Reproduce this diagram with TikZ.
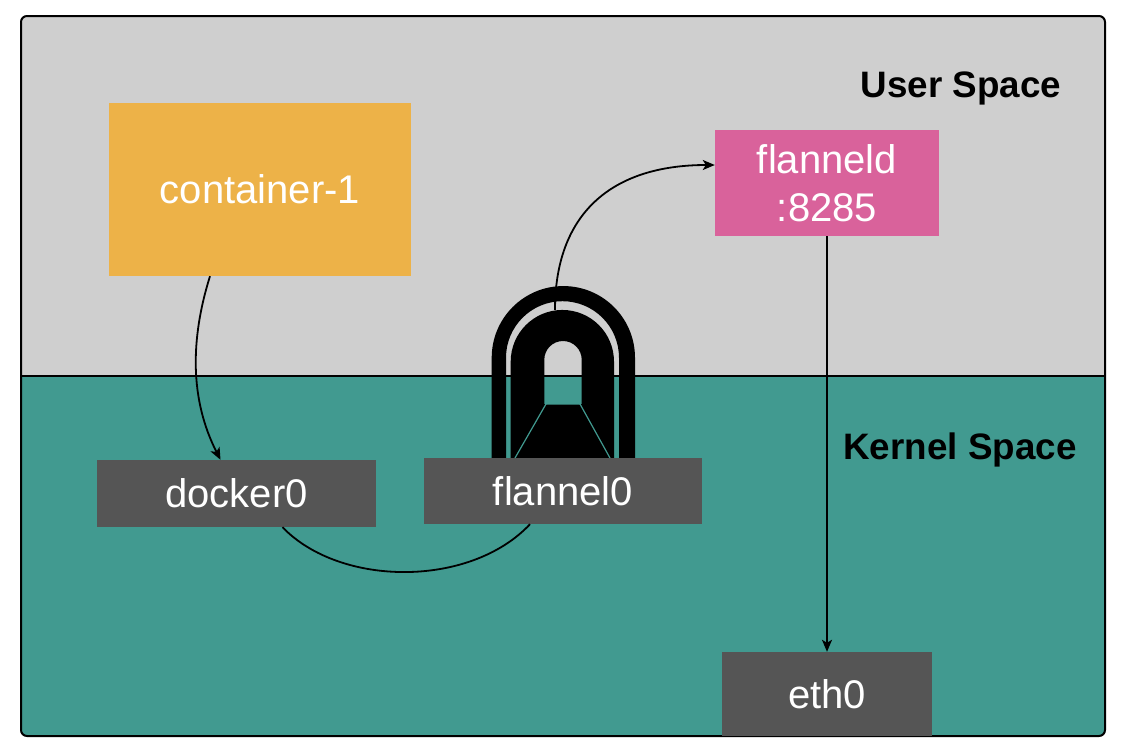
\documentclass[tikz,border=0pt]{standalone}
\usepackage{fontspec}
\setmainfont{Liberation Sans}
\usetikzlibrary{positioning,arrows.meta,calc}
\definecolor{userspace}{HTML}{CFCFCF}
\definecolor{kernelspace}{HTML}{419A90}
\definecolor{containerbox}{HTML}{EDB248}
\definecolor{daemonbox}{HTML}{D9629B}
\definecolor{devicebox}{HTML}{555555}
\tikzset{
  boxlabel/.style={inner sep=0pt, text=white, align=center, font=\fontsize{40}{48}\selectfont},
  device/.style={boxlabel, fill=devicebox},
  spacelabel/.style={inner sep=0pt, text=black, font=\fontsize{36.8}{42}\selectfont\bfseries},
  flow/.style={draw=black, line width=1.8pt, -{Stealth[length=12pt,width=10pt,inset=3pt]}},
  tunnel/.style={fill=black, even odd rule}
}

\begin{document}
\begin{tikzpicture}[x=1pt,y=-1pt]
    \useasboundingbox (0,0) rectangle (1122,750);

    % the two spaces
    \begin{scope}
        \clip[rounded corners=6pt] (21,16) rectangle (1105,736);
        \fill[userspace] (21,16) rectangle (1105,376);
        \fill[kernelspace] (21,376) rectangle (1105,736);
    \end{scope}
    \draw[line width=1.8pt] (21,376) -- (1105,376);
    \draw[line width=2pt, rounded corners=6pt] (21,16) rectangle (1105,736);

    % tunnel
    \fill[tunnel] (491.7,458) -- (491.7,357.7) arc[start angle=180,end angle=0,radius=71.65pt]
        -- (635,458) -- (619,458) -- (619,357.7) arc[start angle=0,end angle=180,radius=56.5pt]
        -- (506,458) -- cycle;
    \fill[tunnel] (510.7,458) -- (510.7,361.6) arc[start angle=180,end angle=0,radius=51.65pt]
        -- (614,458) -- cycle
        (544.3,404) -- (544.3,359.7) arc[start angle=180,end angle=0,radius=18.7pt]
        -- (581.7,404) -- cycle;
    \draw[kernelspace, line width=1.2pt] (515,458) -- (546,404) -- (580,404) -- (610,458);
    \coordinate (tunneltop) at (555,310);

    \node[boxlabel, fill=containerbox, minimum width=302pt, minimum height=173pt] (container) at (260,189.5) {container-1};
    \node[boxlabel, fill=daemonbox, minimum width=224pt, minimum height=106pt] (flanneld) at (827,183) {flanneld\\:8285};
    \node[device, minimum width=279pt, minimum height=67pt] (docker) at (236.5,493.5) {docker0};
    \node[device, minimum width=278pt, minimum height=66pt] (flannel) at (563,491) {flannel0};
    \node[device, minimum width=210pt, minimum height=84pt] (eth) at (827,694) {eth0};

    \node[spacelabel] (user) at (961,88) {User Space};
    \node[spacelabel] (kernel) at (960,449.5) {Kernel Space};

    \draw[flow] ([xshift=-50pt]container.south) .. controls (190,340) and (190,400) .. ([xshift=-16pt]docker.north);
    \draw[line width=1.8pt] ([xshift=46pt]docker.south) .. controls (340,587) and (470,588) .. ([xshift=-33pt]flannel.south);
    \draw[flow] (tunneltop) .. controls (555,215) and (610,165) .. ([yshift=18pt]flanneld.west);
    \draw[flow] (flanneld.south) -- (eth);
\end{tikzpicture}
\end{document}
